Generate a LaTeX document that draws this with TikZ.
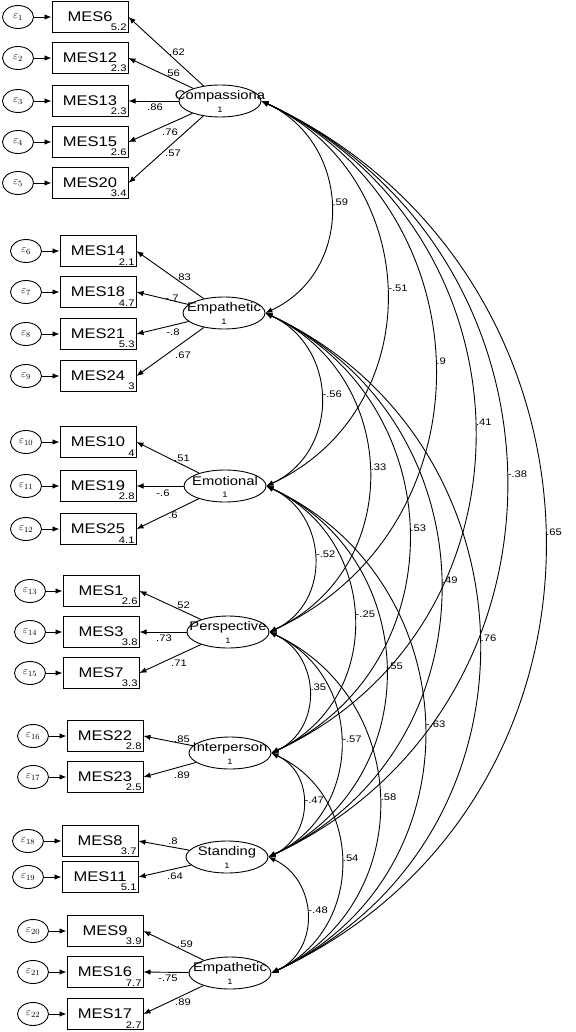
\documentclass[tikz,border=0pt]{standalone}
\usepackage{fontspec}
\setmainfont{Liberation Sans}[FakeStretch=1.18]
\usepackage{amsmath}
\usetikzlibrary{arrows.meta, shapes, positioning}

\begin{document}
\begin{tikzpicture}[x=1pt,y=-1pt,line width=0.9pt,>={Latex[length=7pt,width=5.5pt]},
  latent/.style={draw,ellipse,minimum width=82pt,minimum height=32pt,inner sep=0pt},
  obs/.style={draw,rectangle,line width=1pt,minimum width=76pt,minimum height=31pt,inner sep=0pt,font=\fontsize{14}{16}\selectfont},
  err/.style={draw,ellipse,minimum width=31pt,minimum height=23pt,inner sep=0pt,font=\fontsize{11}{12}\selectfont},
  lat/.style={font=\fontsize{12.5}{14}\selectfont,yshift=5pt,inner sep=0pt},
  one/.style={font=\fontsize{8}{9}\selectfont,yshift=-9pt,inner sep=0pt},
  var/.style={font=\fontsize{9.5}{10}\selectfont,anchor=south east,inner sep=1.5pt},
  coef/.style={font=\fontsize{9.5}{10}\selectfont,inner sep=0pt},
  covlab/.style={font=\fontsize{9.5}{10}\selectfont,inner sep=1pt,pos=0.5,anchor=south west},
  load/.style={->},
  errarr/.style={->},
  cov/.style={<->,out=-25,in=25,looseness=1.2}]
\useasboundingbox (0,0) rectangle (575,1032);

\node[latent,label={[lat]center:Compassiona},label={[one]center:1}] (comp) at (220,101) {};
\node[latent,label={[lat]center:Empathetic},label={[one]center:1}] (emp1) at (224,313) {};
\node[latent,label={[lat]center:Emotional},label={[one]center:1}] (emo) at (225,486) {};
\node[latent,label={[lat]center:Perspective},label={[one]center:1}] (pers) at (228,632) {};
\node[latent,label={[lat]center:Interperson},label={[one]center:1}] (inter) at (230,753) {};
\node[latent,label={[lat]center:Standing},label={[one]center:1}] (stand) at (227,857) {};
\node[latent,label={[lat]center:Empathetic},label={[one]center:1}] (emp2) at (230,973) {};

\node[obs,label={[var]south east:5.2}] (mes6) at (90,17) {MES6};
\node[obs,label={[var]south east:2.3}] (mes12) at (90,58) {MES12};
\node[obs,label={[var]south east:2.3}] (mes13) at (90,101) {MES13};
\node[obs,label={[var]south east:2.6}] (mes15) at (90,142) {MES15};
\node[obs,label={[var]south east:3.4}] (mes20) at (90,183) {MES20};
\node[err] (e1) at (18,17) {$\varepsilon_{1}$};
\node[err] (e2) at (18,58) {$\varepsilon_{2}$};
\node[err] (e3) at (18,101) {$\varepsilon_{3}$};
\node[err] (e4) at (18,142) {$\varepsilon_{4}$};
\node[err] (e5) at (18,183) {$\varepsilon_{5}$};

\node[obs,label={[var]south east:2.1}] (mes14) at (98,251) {MES14};
\node[obs,label={[var]south east:4.7}] (mes18) at (98,292) {MES18};
\node[obs,label={[var]south east:5.3}] (mes21) at (98,334) {MES21};
\node[obs,label={[var]south east:3}] (mes24) at (98,376) {MES24};
\node[err] (e6) at (26,251) {$\varepsilon_{6}$};
\node[err] (e7) at (26,292) {$\varepsilon_{7}$};
\node[err] (e8) at (26,334) {$\varepsilon_{8}$};
\node[err] (e9) at (26,376) {$\varepsilon_{9}$};

\node[obs,label={[var]south east:4}] (mes10) at (98,442) {MES10};
\node[obs,label={[var]south east:2.8}] (mes19) at (98,486) {MES19};
\node[obs,label={[var]south east:4.1}] (mes25) at (98,529) {MES25};
\node[err] (e10) at (26,442) {$\varepsilon_{10}$};
\node[err] (e11) at (26,486) {$\varepsilon_{11}$};
\node[err] (e12) at (26,529) {$\varepsilon_{12}$};

\node[obs,label={[var]south east:2.6}] (mes1) at (101,591) {MES1};
\node[obs,label={[var]south east:3.8}] (mes3) at (101,632) {MES3};
\node[obs,label={[var]south east:3.3}] (mes7) at (101,673) {MES7};
\node[err] (e13) at (30,591) {$\varepsilon_{13}$};
\node[err] (e14) at (30,632) {$\varepsilon_{14}$};
\node[err] (e15) at (30,673) {$\varepsilon_{15}$};

\node[obs,label={[var]south east:2.8}] (mes22) at (105,736) {MES22};
\node[obs,label={[var]south east:2.5}] (mes23) at (105,777) {MES23};
\node[err] (e16) at (33,736) {$\varepsilon_{16}$};
\node[err] (e17) at (33,777) {$\varepsilon_{17}$};

\node[obs,label={[var]south east:3.7}] (mes8) at (100,841) {MES8};
\node[obs,label={[var]south east:5.1}] (mes11) at (100,877) {MES11};
\node[err] (e18) at (28,841) {$\varepsilon_{18}$};
\node[err] (e19) at (28,877) {$\varepsilon_{19}$};

\node[obs,label={[var]south east:3.9}] (mes9) at (105,931) {MES9};
\node[obs,label={[var]south east:7.7}] (mes16) at (105,972) {MES16};
\node[obs,label={[var]south east:2.7}] (mes17) at (105,1014) {MES17};
\node[err] (e20) at (33,931) {$\varepsilon_{20}$};
\node[err] (e21) at (33,972) {$\varepsilon_{21}$};
\node[err] (e22) at (33,1014) {$\varepsilon_{22}$};

\draw[errarr] (e1) -- (mes6);
\draw[errarr] (e2) -- (mes12);
\draw[errarr] (e3) -- (mes13);
\draw[errarr] (e4) -- (mes15);
\draw[errarr] (e5) -- (mes20);
\draw[errarr] (e6) -- (mes14);
\draw[errarr] (e7) -- (mes18);
\draw[errarr] (e8) -- (mes21);
\draw[errarr] (e9) -- (mes24);
\draw[errarr] (e10) -- (mes10);
\draw[errarr] (e11) -- (mes19);
\draw[errarr] (e12) -- (mes25);
\draw[errarr] (e13) -- (mes1);
\draw[errarr] (e14) -- (mes3);
\draw[errarr] (e15) -- (mes7);
\draw[errarr] (e16) -- (mes22);
\draw[errarr] (e17) -- (mes23);
\draw[errarr] (e18) -- (mes8);
\draw[errarr] (e19) -- (mes11);
\draw[errarr] (e20) -- (mes9);
\draw[errarr] (e21) -- (mes16);
\draw[errarr] (e22) -- (mes17);

\draw[load] (comp) -- (mes6.east);
\draw[load] (comp) -- (mes12.east);
\draw[load] (comp) -- (mes13.east);
\draw[load] (comp) -- (mes15.east);
\draw[load] (comp) -- (mes20.east);
\draw[load] (emp1) -- (mes14.east);
\draw[load] (emp1) -- (mes18.east);
\draw[load] (emp1) -- (mes21.east);
\draw[load] (emp1) -- (mes24.east);
\draw[load] (emo) -- (mes10.east);
\draw[load] (emo) -- (mes19.east);
\draw[load] (emo) -- (mes25.east);
\draw[load] (pers) -- (mes1.east);
\draw[load] (pers) -- (mes3.east);
\draw[load] (pers) -- (mes7.east);
\draw[load] (inter) -- (mes22.east);
\draw[load] (inter) -- (mes23.east);
\draw[load] (stand) -- (mes8.east);
\draw[load] (stand) -- (mes11.east);
\draw[load] (emp2) -- (mes9.east);
\draw[load] (emp2) -- (mes16.east);
\draw[load] (emp2) -- (mes17.east);

\node[coef] (l6) at (177,52) {.62};
\node[coef] (l12) at (172,73) {.56};
\node[coef] (l13) at (155,107) {.86};
\node[coef] (l15) at (170,132) {.76};
\node[coef] (l20) at (173,153) {.57};
\node[coef] (l14) at (183,277) {.83};
\node[coef] (l18) at (172,298) {-.7};
\node[coef] (l21) at (173,332) {-.8};
\node[coef] (l24) at (183,355) {.67};
\node[coef] (l10) at (182,458) {.51};
\node[coef] (l19) at (163,493) {-.6};
\node[coef] (l25) at (173,515) {.6};
\node[coef] (l1) at (182,605) {.52};
\node[coef] (l3) at (164,638) {.73};
\node[coef] (l7) at (179,663) {.71};
\node[coef] (l22) at (182,739) {.85};
\node[coef] (l23) at (182,775) {.89};
\node[coef] (l8) at (173,841) {.8};
\node[coef] (l11) at (175,876) {.64};
\node[coef] (l9) at (185,944) {.59};
\node[coef] (l16) at (168,978) {-.75};
\node[coef] (l17) at (183,1002) {.89};

\draw[cov] (comp.east) to node[covlab] {.59} (emp1.east);
\draw[cov] (comp.east) to node[covlab] {-.51} (emo.east);
\draw[cov] (comp.east) to node[covlab] {.9} (pers.east);
\draw[cov] (comp.east) to node[covlab] {.41} (inter.east);
\draw[cov] (comp.east) to node[covlab] {-.38} (stand.east);
\draw[cov] (comp.east) to node[covlab] {.65} (emp2.east);
\draw[cov] (emp1.east) to node[covlab] {-.56} (emo.east);
\draw[cov] (emp1.east) to node[covlab] {.33} (pers.east);
\draw[cov] (emp1.east) to node[covlab] {.53} (inter.east);
\draw[cov] (emp1.east) to node[covlab] {.49} (stand.east);
\draw[cov] (emp1.east) to node[covlab] {.76} (emp2.east);
\draw[cov] (emo.east) to node[covlab] {-.52} (pers.east);
\draw[cov] (emo.east) to node[covlab] {-.25} (inter.east);
\draw[cov] (emo.east) to node[covlab] {.55} (stand.east);
\draw[cov] (emo.east) to node[covlab] {-.63} (emp2.east);
\draw[cov] (pers.east) to node[covlab] {.35} (inter.east);
\draw[cov] (pers.east) to node[covlab] {-.57} (stand.east);
\draw[cov] (pers.east) to node[covlab] {.58} (emp2.east);
\draw[cov] (inter.east) to node[covlab] {-.47} (stand.east);
\draw[cov] (inter.east) to node[covlab] {.54} (emp2.east);
\draw[cov] (stand.east) to node[covlab] {-.48} (emp2.east);
\end{tikzpicture}
\end{document}
